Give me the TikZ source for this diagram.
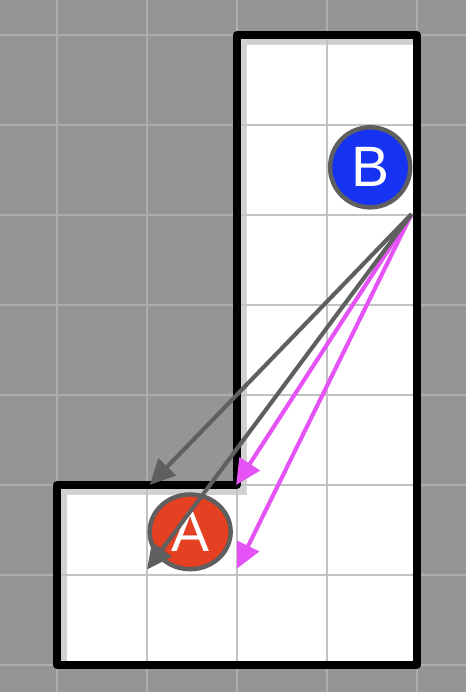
\documentclass[tikz,border=0pt]{standalone}
\usepackage{fontspec}
\setmainfont{Liberation Sans}
\usetikzlibrary{arrows.meta, shapes.geometric}
\definecolor{boardgray}{HTML}{959595}
\definecolor{linegray}{HTML}{ADADAD}
\definecolor{cellgray}{HTML}{C2C2C2}
\definecolor{shadegray}{HTML}{D0D0D0}
\definecolor{ringgray}{HTML}{5F5F5F}
\definecolor{tokblue}{HTML}{1632F2}
\definecolor{tokred}{HTML}{E64022}
\definecolor{pathpink}{HTML}{E552F5}
\tikzset{
  token/.style={circle, draw=ringgray, line width=1.4pt, inner sep=0pt, text=white,
    font=\fontsize{18}{21}\selectfont},
  move/.style={line width=1.3pt, -{Triangle[length=8pt, width=7.5pt]}},
}

\begin{document}
\begin{tikzpicture}
    \useasboundingbox (-0.633,-0.3) rectangle (4.544,7.389);
    % board
    \fill[boardgray] (-0.633,-0.3) rectangle (4.544,7.389);
    \clip (-0.633,-0.3) rectangle (4.544,7.389);
    \draw[linegray, line width=0.6pt] (-1,-1) grid (5,8);
    % room: inset shadow and cells
    \begin{scope}
        \clip (0,0) -- (4,0) -- (4,7) -- (2,7) -- (2,2) -- (0,2) -- cycle;
        \fill[shadegray] (0,0) rectangle (4,7);
        \fill[white, shift={(0.11,-0.11)}] (0,0) -- (4,0) -- (4,7) -- (2,7) -- (2,2) -- (0,2) -- cycle;
        \draw[cellgray, line width=0.7pt] (0,0) grid (4,7);
    \end{scope}
    \draw[line width=2.4pt, line join=round] (0,0) -- (4,0) -- (4,7) -- (2,7) -- (2,2) -- (0,2) -- cycle;
    % tokens
    \node[token, fill=tokblue, minimum size=0.89cm] (B) at (3.48,5.53) {B};
    \node[token, ellipse, fill=tokred, minimum width=0.9cm, minimum height=0.83cm] (A) at (1.48,1.48) {A};
    % moves
    \coordinate (src) at (3.94,5.01);
    \coordinate (g1) at (1.03,2.0);
    \coordinate (g2) at (1.0,1.06);
    \coordinate (p1) at (1.99,2.0);
    \coordinate (p2) at (2.0,1.07);
    \draw[move, pathpink] (src) -- (p1);
    \draw[move, pathpink] (src) -- (p2);
    \draw[move, ringgray] (src) -- (g1);
    \draw[move, ringgray] (src) -- (g2);
\end{tikzpicture}
\end{document}
